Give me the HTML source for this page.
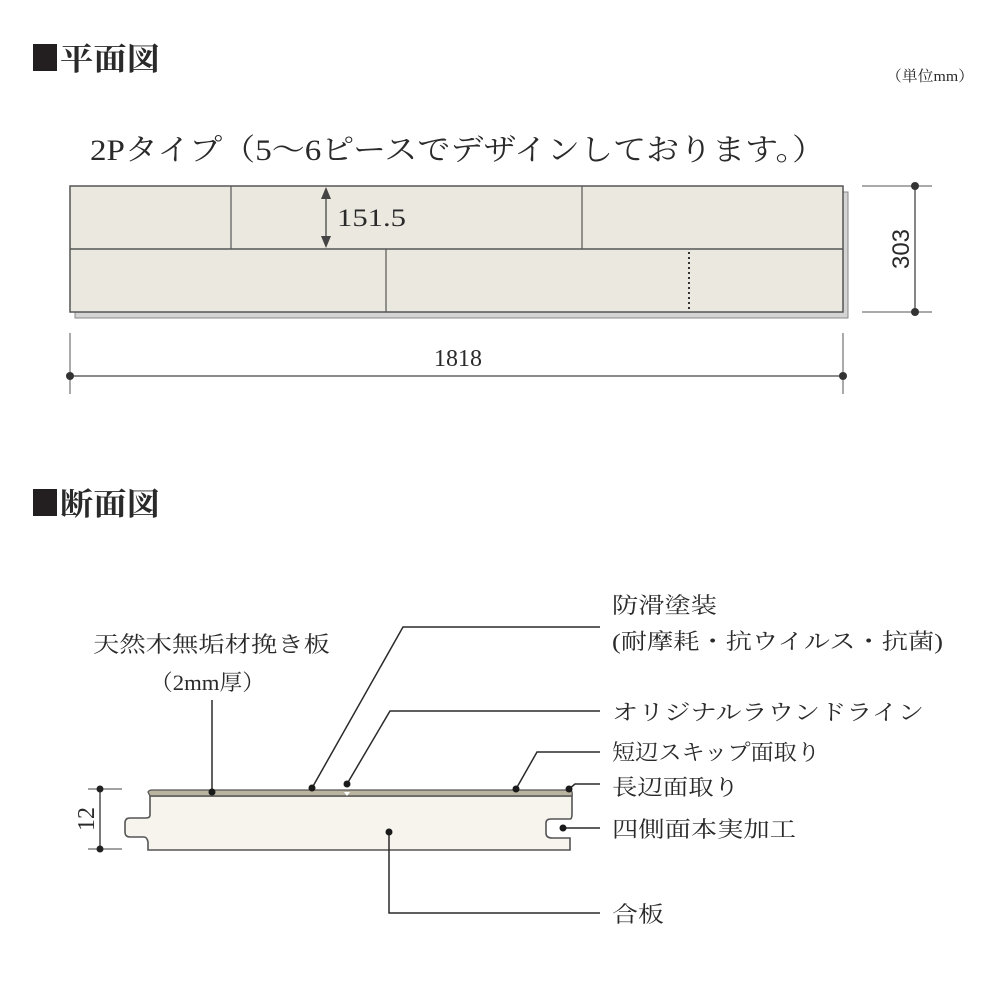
<!DOCTYPE html>
<html><head><meta charset="utf-8"><style>
html,body{margin:0;padding:0;background:#fff;}
svg{display:block}
text{font-family:"Liberation Serif","Noto Serif CJK SC",serif;fill:#2a2a2a}
</style></head><body>
<svg width="1000" height="1000" viewBox="0 0 1000 1000" xmlns="http://www.w3.org/2000/svg">
<rect x="33" y="44" width="24" height="27" fill="#231f20"/>
<text x="60" y="70" font-size="31" font-weight="bold" textLength="100" lengthAdjust="spacingAndGlyphs">平面図</text>
<text x="886" y="81" font-size="15" textLength="88" lengthAdjust="spacingAndGlyphs">（単位mm）</text>
<text x="90" y="160" font-size="30" textLength="735" lengthAdjust="spacingAndGlyphs">2Pタイプ（5〜6ピースでデザインしております。）</text>

<rect x="75" y="192" width="773" height="126" fill="#d4d4d4" stroke="#888" stroke-width="1"/>
<rect x="70" y="186" width="773" height="126" fill="#ebe8e0" stroke="#555" stroke-width="1.5"/>
<line x1="70" y1="249" x2="843" y2="249" stroke="#555" stroke-width="1.5"/>
<line x1="231" y1="186" x2="231" y2="249" stroke="#555" stroke-width="1.2"/>
<line x1="582" y1="186" x2="582" y2="249" stroke="#555" stroke-width="1.2"/>
<line x1="386" y1="249" x2="386" y2="312" stroke="#555" stroke-width="1.2"/>
<line x1="689" y1="252" x2="689" y2="312" stroke="#333" stroke-width="2" stroke-dasharray="2,3"/>
<line x1="326" y1="196" x2="326" y2="239" stroke="#444" stroke-width="1.3"/>
<polygon points="326,187 321,199 331,199" fill="#444"/>
<polygon points="326,248 321,236 331,236" fill="#444"/>
<text x="337" y="226" font-size="25" textLength="69" lengthAdjust="spacingAndGlyphs">151.5</text>

<line x1="862" y1="186" x2="932" y2="186" stroke="#555" stroke-width="1"/>
<line x1="862" y1="312" x2="932" y2="312" stroke="#555" stroke-width="1"/>
<line x1="915" y1="186" x2="915" y2="312" stroke="#444" stroke-width="1.3"/>
<circle cx="915" cy="186" r="4" fill="#333"/><circle cx="915" cy="312" r="4" fill="#333"/>
<text transform="translate(909,249) rotate(-90)" x="0" y="0" font-size="24" text-anchor="middle" style="font-family:'Liberation Sans',sans-serif">303</text>

<line x1="70" y1="333" x2="70" y2="394" stroke="#555" stroke-width="1"/>
<line x1="843" y1="333" x2="843" y2="394" stroke="#555" stroke-width="1"/>
<line x1="70" y1="376" x2="843" y2="376" stroke="#444" stroke-width="1.3"/>
<circle cx="70" cy="376" r="4" fill="#333"/><circle cx="843" cy="376" r="4" fill="#333"/>
<text x="458" y="366" font-size="24" text-anchor="middle">1818</text>

<rect x="33" y="489" width="24" height="27" fill="#231f20"/>
<text x="60" y="515" font-size="31" font-weight="bold" textLength="100" lengthAdjust="spacingAndGlyphs">断面図</text>

<path d="M150,796 L150,815 Q150,818 146,818 L130,818 Q125,818 125,823 L125,832 Q125,837 130,837 L144,837 Q147,837 148,842 L148,850 L570,850 L570,838 L552,838 Q546,838 546,833 L546,823 Q546,819 551,819 L570,819 Q572,819 572,814 L572,796 Z" fill="#f7f4ee" stroke="#555" stroke-width="1.6"/>
<path d="M150,796 L148,792 Q149,790 152,790 L570,790 Q573,791 572,796 Z" fill="#b9b39f" stroke="#555" stroke-width="1.3"/>
<line x1="150" y1="796" x2="572" y2="796" stroke="#555" stroke-width="1.3"/>

<line x1="88" y1="789" x2="122" y2="789" stroke="#444" stroke-width="1"/>
<line x1="88" y1="849" x2="122" y2="849" stroke="#444" stroke-width="1"/>
<line x1="100" y1="789" x2="100" y2="849" stroke="#333" stroke-width="1.3"/>
<circle cx="100" cy="789" r="3.5" fill="#222"/><circle cx="100" cy="849" r="3.5" fill="#222"/>
<text transform="translate(94,819) rotate(-90)" x="0" y="0" font-size="24" text-anchor="middle">12</text>

<g stroke="#2a2a2a" stroke-width="1.5" fill="none">
<polyline points="212,792 212,700"/>
<polyline points="312,788 403,627 600,627"/>
<polyline points="347,784 390,711 600,711"/>
<polyline points="516,789 537,752 600,752"/>
<polyline points="569,789 575,784 600,784"/>
<polyline points="563,828 600,828"/>
<polyline points="389,832 389,913 600,913"/>
</g>
<g fill="#1a1a1a">
<circle cx="212" cy="792" r="3.5"/><circle cx="312" cy="788" r="3.5"/><circle cx="347" cy="784" r="3.5"/>
<circle cx="516" cy="789" r="3.5"/><circle cx="569" cy="789" r="3.5"/><circle cx="563" cy="828" r="3.5"/>
<circle cx="389" cy="832" r="3.5"/>
</g>
<polygon points="344,792 347,796 350,792" fill="#fff"/>

<g font-size="22">
<text x="93" y="652" textLength="237" lengthAdjust="spacingAndGlyphs">天然木無垢材挽き板</text>
<text x="150" y="690" textLength="115" lengthAdjust="spacingAndGlyphs">（2mm厚）</text>
<text x="612" y="613" textLength="105" lengthAdjust="spacingAndGlyphs">防滑塗装</text>
<text x="612" y="649" textLength="331" lengthAdjust="spacingAndGlyphs">(耐摩耗・抗ウイルス・抗菌)</text>
<text x="612" y="720" textLength="312" lengthAdjust="spacingAndGlyphs">オリジナルラウンドライン</text>
<text x="612" y="760" textLength="208" lengthAdjust="spacingAndGlyphs">短辺スキップ面取り</text>
<text x="612" y="795" textLength="127" lengthAdjust="spacingAndGlyphs">長辺面取り</text>
<text x="612" y="837" textLength="184" lengthAdjust="spacingAndGlyphs">四側面本実加工</text>
<text x="612" y="922" textLength="52" lengthAdjust="spacingAndGlyphs">合板</text>
</g>
</svg>
</body></html>
